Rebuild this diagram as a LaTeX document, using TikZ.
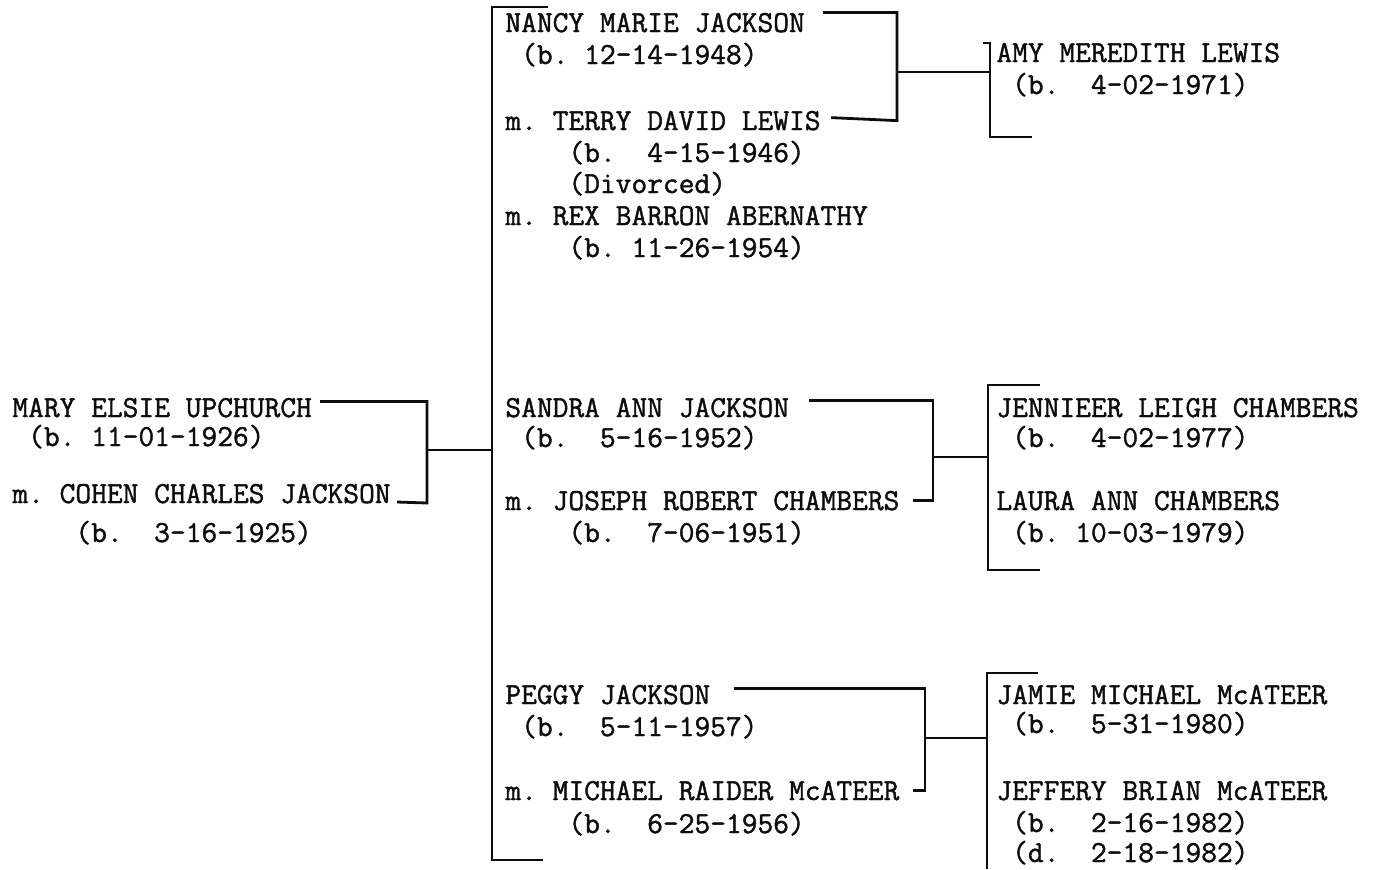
\documentclass[tikz,border=0pt]{standalone}
\usepackage{fontspec}
\usetikzlibrary{calc}
\newfontfamily\typewriter{Latin Modern Mono}[FakeBold=1.3]
\definecolor{InkClr}{rgb}{0.05,0.05,0.05}
\frenchspacing
\tikzset{
  person/.style={anchor=base west,inner sep=0pt,text=InkClr,
    font=\fontsize{15.3}{18}\selectfont\typewriter},
  famline/.style={line width=1.4pt,color=InkClr},
}

\begin{document}
\begin{tikzpicture}[x=0.5pt,y=-0.5pt]
\useasboundingbox[fill=white] (0,0) rectangle (1375,869);

% parents
\node[person] (mary)      at (12,417) {MARY ELSIE UPCHURCH};
\node[person] (marydate)  at (12,446) {~(b. 11-01-1926)};
\node[person] (cohen)     at (12,503) {m. COHEN CHARLES JACKSON};
\node[person] (cohendate) at (12,542) {~~~~(b.~~3-16-1925)};

% children
\node[person] (nancy)      at (505,32)  {NANCY MARIE JACKSON};
\node[person] (nancydate)  at (505,64)  {~(b. 12-14-1948)};
\node[person] (terry)      at (505,130) {m. TERRY DAVID LEWIS};
\node[person] (terrydate)  at (505,162) {~~~~(b.~~4-15-1946)};
\node[person] (divorced)   at (505,193) {~~~~(Divorced)};
\node[person] (rex)        at (505,225) {m. REX BARRON ABERNATHY};
\node[person] (rexdate)    at (505,257) {~~~~(b. 11-26-1954)};

\node[person] (sandra)     at (505,417) {SANDRA ANN JACKSON};
\node[person] (sandradate) at (505,447) {~(b.~~5-16-1952)};
\node[person] (joseph)     at (505,510) {m. JOSEPH ROBERT CHAMBERS};
\node[person] (josephdate) at (505,542) {~~~~(b.~~7-06-1951)};

\node[person] (peggy)       at (505,704) {PEGGY JACKSON};
\node[person] (peggydate)   at (505,736) {~(b.~~5-11-1957)};
\node[person] (michael)     at (505,800) {m. MICHAEL RAIDER McATEER};
\node[person] (michaeldate) at (505,833) {~~~~(b.~~6-25-1956)};

% grandchildren
\node[person] (amy)      at (996,62) {AMY MEREDITH LEWIS};
\node[person] (amydate)  at (996,94) {~(b.~~4-02-1971)};

\node[person] (jennifer)     at (996,417) {JENNIEER LEIGH CHAMBERS};
\node[person] (jenniferdate) at (996,447) {~(b.~~4-02-1977)};
\node[person] (laura)        at (996,510) {LAURA ANN CHAMBERS};
\node[person] (lauradate)    at (996,542) {~(b. 10-03-1979)};

\node[person] (jamie)      at (996,704) {JAMIE MICHAEL McATEER};
\node[person] (jamiedate)  at (996,733) {~(b.~~5-31-1980)};
\node[person] (jeffery)    at (996,800) {JEFFERY BRIAN McATEER};
\node[person] (jefferyb)   at (996,832) {~(b.~~2-16-1982)};
\node[person] (jefferyd)   at (996,862) {~(d.~~2-18-1982)};

% bracket points
\coordinate (mbar) at (427,450);
\coordinate (nbar) at (897,72);
\coordinate (sbar) at (933,457);
\coordinate (pbar) at (925,738);

\coordinate (spinetop) at (492,7);
\coordinate (spinebot) at (492,860);
\coordinate (amytop) at (990,43);
\coordinate (amybot) at (990,137);
\coordinate (jentop) at (988,385);
\coordinate (jenbot) at (988,570);
\coordinate (jamtop) at (987,673);
\coordinate (jambot) at (987,869);

% parents
\draw[famline] ($(mary.north east)+(8,4)$) -| (mbar |- cohen.base east) -- ($(cohen.base east)+(6,-1)$);
\draw[famline] (mbar) -- (spinetop |- mbar);
\draw[famline] ($(spinetop)+(56,0)$) -- (spinetop) -- (spinebot) -- ++(51,0);

% children
\draw[famline] ($(nancy.north east)+(18,0)$) -| (nbar |- terry.east) -- ($(terry.east)+(10,-3)$);
\draw[famline] (nbar) -- (amytop |- nbar);
\draw[famline] ($(amytop)+(-7,0)$) -- (amytop) -- (amybot) -- ++(42,0);

\draw[famline] ($(sandra.north east)+(20,3)$) -| (sbar |- joseph.east) -- ($(joseph.east)+(13,0)$);
\draw[famline] (sbar) -- (jentop |- sbar);
\draw[famline] ($(jentop)+(52,0)$) -- (jentop) -- (jenbot) -- ++(52,0);

\draw[famline] ($(peggy.north east)+(23,4)$) -| (pbar |- michael.east) -- ($(michael.east)+(13,0)$);
\draw[famline] (pbar) -- (jamtop |- pbar);
\draw[famline] ($(jamtop)+(51,0)$) -- (jamtop) -- (jambot);

\end{tikzpicture}
\end{document}
